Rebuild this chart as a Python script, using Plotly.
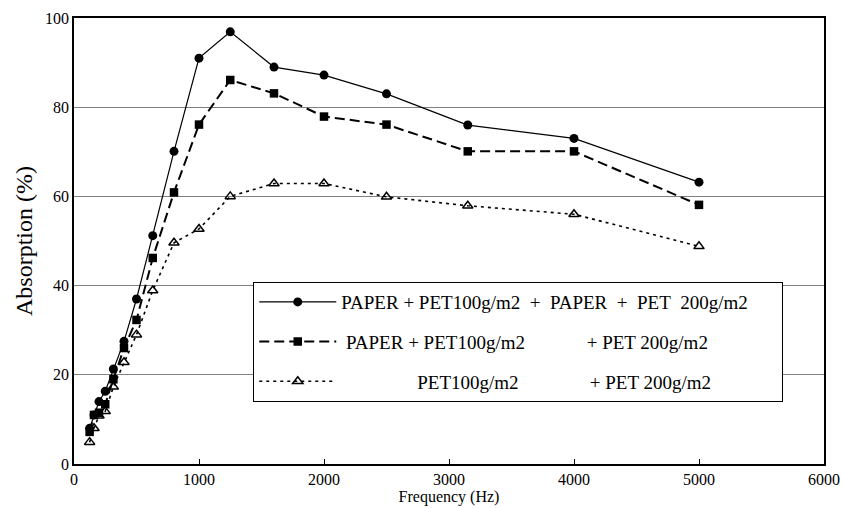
import plotly.graph_objects as go

freq = [125, 160, 200, 250, 315, 400, 500, 630, 800, 1000, 1250, 1600, 2000, 2500, 3150, 4000, 5000]
paper_pet_paper_pet = [8.0, 11.0, 14.0, 16.3, 21.3, 27.5, 37.0, 51.2, 70.1, 91.0, 96.9, 89.0, 87.2, 83.0, 76.0, 73.0, 63.2]
paper_pet_pet = [7.2, 11.0, 11.5, 13.4, 19.0, 26.0, 32.3, 46.2, 60.9, 76.1, 86.1, 83.1, 77.9, 76.1, 70.1, 70.1, 58.1]
pet_pet = [4.9, 8.0, 10.8, 11.8, 17.3, 22.8, 29.0, 38.9, 49.6, 52.7, 60.0, 62.9, 62.9, 59.9, 57.9, 56.0, 48.8]

NB = "\u00a0"
names = [
    "PAPER + PET100g/m2" + NB + " +" + NB + " PAPER" + NB + " +" + NB + " PET" + NB + " 200g/m2" + NB * 6,
    NB + "PAPER + PET100g/m2" + NB * 13 + "+ PET 200g/m2",
    NB * 16 + "PET100g/m2" + NB * 15 + "+ PET 200g/m2",
]

FONT = "Liberation Serif"

fig = go.Figure()
fig.add_trace(go.Scatter(
    x=freq, y=paper_pet_paper_pet, mode="lines+markers", name=names[0],
    line=dict(color="black", width=1.2),
    marker=dict(symbol="circle", size=9, color="black"),
    legendgroup="a",
))
fig.add_trace(go.Scatter(
    x=freq, y=paper_pet_pet, mode="lines+markers", name=names[1],
    line=dict(color="black", width=2, dash="10px,5px"),
    marker=dict(symbol="square", size=8.5, color="black"),
    legendgroup="b",
))
fig.add_trace(go.Scatter(
    x=freq, y=pet_pet, mode="lines+markers", name=names[2],
    line=dict(color="black", width=1.6, dash="3px,4px"),
    marker=dict(symbol="triangle-up-open", size=9, color="black", line=dict(width=1.5, color="black")),
    legendgroup="c",
))

fig.update_layout(
    width=843, height=508,
    margin=dict(l=74, r=19, t=18, b=44, autoexpand=False),
    paper_bgcolor="white", plot_bgcolor="white",
    font=dict(family=FONT, color="black", size=16),
    showlegend=True,
    legend=dict(
        x=0.239, y=0.408, xanchor="left", yanchor="top",
        bordercolor="black", borderwidth=1, bgcolor="white",
        font=dict(family=FONT, size=19, color="black"),
        tracegroupgap=12, itemwidth=77,
    ),
    xaxis=dict(
        range=[0, 6000], dtick=1000, tick0=0, automargin=False,
        showgrid=False, zeroline=False,
        showline=True, linecolor="black", linewidth=1.5, mirror=True,
        ticks="inside", ticklen=5, tickcolor="black",
        tickfont=dict(family=FONT, size=16),
        title=dict(text="Frequency (Hz)", font=dict(family=FONT, size=16), standoff=4),
    ),
    yaxis=dict(
        range=[0, 100], dtick=20, tick0=0, automargin=False,
        showgrid=True, gridcolor="#808080", gridwidth=1, zeroline=False,
        showline=True, linecolor="black", linewidth=1.5, mirror=True,
        ticks="", tickfont=dict(family=FONT, size=16),
        title=dict(text="Absorption (%)", font=dict(family=FONT, size=24), standoff=6),
    ),
)

fig.write_html(
    "out.html",
    config={"displayModeBar": False},
    post_script="document.body.style.margin='0px';document.body.style.overflow='hidden';",
)
